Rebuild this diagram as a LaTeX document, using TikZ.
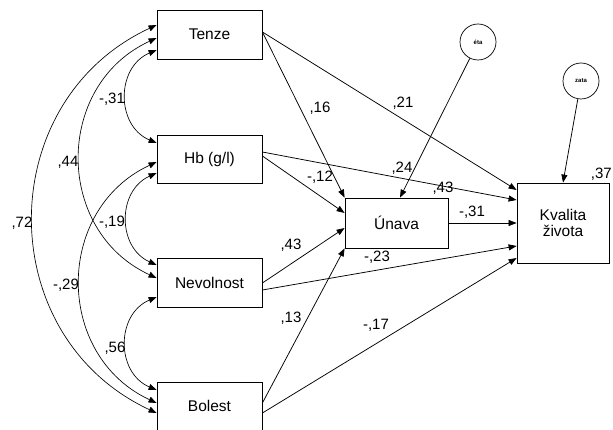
\documentclass[tikz,border=0pt]{standalone}
\usepackage{fontspec}
\setmainfont{Liberation Sans}
\usetikzlibrary{arrows.meta,calc}
\begin{document}
\begin{tikzpicture}[x=1pt,y=-1pt,
  vbox/.style={draw,line width=0.8pt,minimum width=105pt,minimum height=49pt,inner sep=0pt,font=\fontsize{15.5}{16}\selectfont},
  err/.style={draw,circle,line width=0.7pt,minimum size=36pt,inner sep=0pt,font=\bfseries\fontsize{6}{7}\selectfont},
  coef/.style={font=\fontsize{15}{17}\selectfont,inner sep=0pt},
  arr/.style={line width=0.75pt,-{Triangle[length=8pt,width=6pt]}},
  cov/.style={line width=0.65pt,{Triangle[length=8pt,width=6pt]}-{Triangle[length=8pt,width=6pt]}}]
\useasboundingbox (0,0) rectangle (613,430);
% boxes
\node[vbox] (T) at (209.5,34.5) {Tenze};
\node[vbox,minimum height=48pt] (H) at (209.5,159) {Hb (g/l)};
\node[vbox] (N) at (209.5,282.5) {Nevolnost};
\node[vbox,minimum height=48pt] (B) at (209.5,406) {Bolest};
\node[vbox,minimum width=103pt,minimum height=50pt] (U) at (396.5,223) {Únava};
\node[vbox,minimum width=92pt,minimum height=80pt,align=center] (K) at (563,223) {Kvalita\\života};
\node[err] (E) at (478,42) {éta};
\node[err] (Z) at (581,81) {zata};
% covariances
\draw[cov] ([yshift=-15.5pt]T.west) .. controls (115.8,67.3) and (115.8,125.7) .. ([yshift=16pt]H.west);
\draw[cov] ([yshift=-3.5pt]T.west) .. controls (54.3,85.1) and (54.3,230.9) .. ([yshift=4.5pt]N.west);
\draw[cov] ([yshift=9.5pt]T.west) .. controls (-8,101.6) and (-8,336.4) .. ([yshift=-7pt]B.west);
\draw[cov] ([yshift=-3pt]H.west) .. controls (54.5,209.6) and (54.5,355.4) .. ([yshift=3pt]B.west);
\draw[cov] ([yshift=-14pt]H.west) .. controls (117.1,190.7) and (117.1,247.3) .. ([yshift=17.5pt]N.west);
\draw[cov] ([yshift=-14.5pt]N.west) .. controls (115.8,314.3) and (115.8,372.7) .. ([yshift=16pt]B.west);
% paths
\draw[arr] ([yshift=2.5pt]T.east) -- (U.north west);
\draw[arr] ([yshift=2.5pt]T.east) -- ([yshift=33pt]K.west);
\draw[arr] ([yshift=7pt]H.east) -- ([yshift=23pt]K.west);
\draw[arr] ([yshift=3pt]H.east) -- ([yshift=10pt]U.west);
\draw[arr] ([yshift=-0.5pt]N.east) -- ([yshift=-5pt]U.west);
\draw[arr] ([yshift=-7.5pt]N.east) -- ([yshift=-23pt]K.west);
\draw[arr] ([yshift=3pt]B.east) -- (U.south west);
\draw[arr] ([yshift=-7pt]B.east) -- ([yshift=-35pt]K.west);
\draw[arr] (U.east) -- (K.west);
\draw[arr] (E) -- ([xshift=3.5pt]U.north);
\draw[arr] (Z) -- (K.north);
% labels
\node[coef] (c1) at (112,99) {-,31};
\node[coef] (c2) at (68,162) {,44};
\node[coef] (c3) at (22,223) {,72};
\node[coef] (c4) at (112,222) {-,19};
\node[coef] (c5) at (66,285) {-,29};
\node[coef] (c6) at (115,348) {,56};
\node[coef] (c7) at (320,108) {,16};
\node[coef] (c8) at (403,103) {,21};
\node[coef] (c9) at (320,177) {-,12};
\node[coef] (c10) at (402,168) {,24};
\node[coef] (c11) at (291,245) {,43};
\node[coef] (c12) at (443,188) {,43};
\node[coef] (c13) at (472,212) {-,31};
\node[coef] (c14) at (377,257) {-,23};
\node[coef] (c15) at (291,318) {,13};
\node[coef] (c16) at (376,325) {-,17};
\node[coef,anchor=east] (c17) at (612,174) {,37};
\end{tikzpicture}
\end{document}
